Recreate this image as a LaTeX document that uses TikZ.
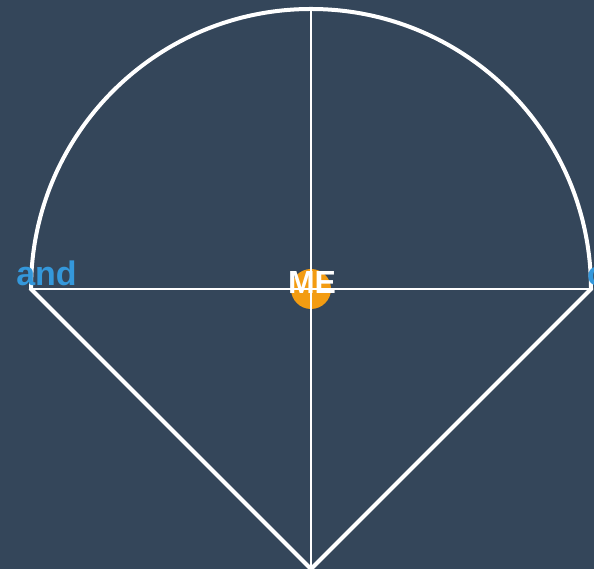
\documentclass[tikz,border=0pt]{standalone}
\usepackage{fontspec}
\setmainfont{Liberation Sans}
\usepackage{tikz}
\usetikzlibrary{positioning}
\definecolor{Asphalt}{HTML}{34465A}
\definecolor{DotOrange}{HTML}{F39C12}
\definecolor{WordBlue}{HTML}{3498DB}
\tikzset{
  rim/.style={draw=white,line width=4pt,line join=miter},
  axis/.style={draw=white,line width=1.8pt},
  word/.style={font=\bfseries\fontsize{34}{34}\selectfont,text=WordBlue,inner sep=0pt},
  selfdot/.style={circle,fill=DotOrange,minimum size=40pt,inner sep=0pt}
}

\begin{document}
\begin{tikzpicture}[x=1pt,y=1pt]
  \fill[Asphalt] (0,0) rectangle (594,569);
  \useasboundingbox (0,0) rectangle (594,569);
  \coordinate (centre) at (311,280);
  \coordinate (west) at (31,280);
  \coordinate (east) at (591,280);
  \coordinate (top) at (311,560);
  \coordinate (tip) at (311,0);

  \node[selfdot] (dot) at (centre) {};
  \draw[axis] (west) -- (east);
  \draw[axis] (top) -- (tip);
  \draw[rim] (east) arc[start angle=0,end angle=180,radius=280] -- (tip) -- cycle;

  \node[font=\bfseries\fontsize{32}{32}\selectfont,text=white,inner sep=0pt,anchor=base] (me) at (312,275) {ME};
  \node[word,anchor=base] (left) at (46.5,283) {and};
  \node[word,anchor=base west] (right) at (587,283) {or};
\end{tikzpicture}
\end{document}
